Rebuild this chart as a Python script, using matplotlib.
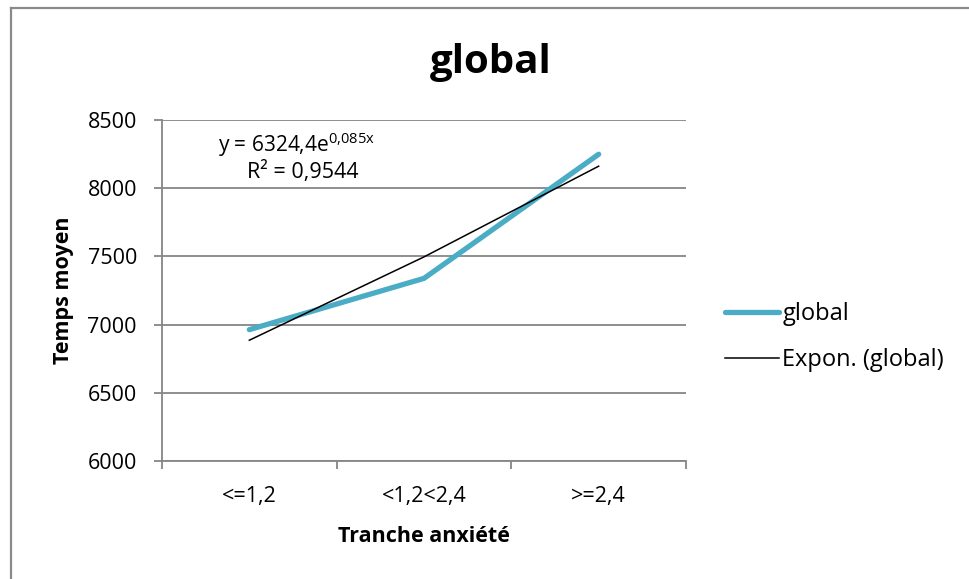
import matplotlib
matplotlib.use("Agg")
import matplotlib.pyplot as plt
import numpy as np
from matplotlib.lines import Line2D

plt.rcParams['font.family'] = ['Open Sans', 'DejaVu Sans']

categories = ["<=1,2", "<1,2<2,4", ">=2,4"]
global_values = [6963, 7339, 8249]
trend_a = 6324.4
trend_b = 0.085
y_ticks = [6000, 6500, 7000, 7500, 8000, 8500]

W, H = 969, 579
fig = plt.figure(figsize=(W / 100, H / 100), dpi=100)
ax = fig.add_axes([162 / W, 1 - 461 / H, (686 - 162) / W, (461 - 120) / H])

x = np.arange(1, len(categories) + 1)
trend_vals = trend_a * np.exp(trend_b * x)

blue = "#4BACC6"
grid_col = "#868686"

ax.plot(x, global_values, color=blue, lw=3.8, solid_capstyle='round',
        solid_joinstyle='round', label="global", zorder=3)
ax.plot(x, trend_vals, color="black", lw=1.1, label="Expon. (global)", zorder=4)

ax.set_xlim(0.5, len(categories) + 0.5)
ax.set_ylim(y_ticks[0], y_ticks[-1])
ax.set_yticks(y_ticks)
ax.set_yticklabels([str(v) for v in y_ticks])
ax.yaxis.grid(True, color=grid_col, lw=1.3)
ax.set_axisbelow(True)

ax.set_xticks(np.arange(0.5, len(categories) + 1, 1.0))
ax.set_xticklabels([])
ax.set_xticks(x, minor=True)
ax.set_xticklabels(categories, minor=True)
ax.tick_params(axis='x', which='major', length=6, width=1.3, color=grid_col, direction='out')
ax.tick_params(axis='x', which='minor', length=0, pad=18, labelsize=15.5)
ax.tick_params(axis='y', length=6, width=1.3, color=grid_col, direction='out', pad=12, labelsize=15.5)

for s in ['top', 'right']:
    ax.spines[s].set_visible(False)
for s in ['left', 'bottom']:
    ax.spines[s].set_color(grid_col)
    ax.spines[s].set_linewidth(1.3)

ax.set_xlabel("Tranche anxiété", fontsize=15.5, fontweight='bold', labelpad=14)
ax.set_ylabel("Temps moyen", fontsize=15.5, fontweight='bold', labelpad=10)

fig.text(491 / W, 1 - 62 / H, "global", fontsize=29, fontweight='bold',
         ha='center', va='center')

ax.text(296 / W, 1 - 145 / H, r"y = 6324,4e$^{\mathregular{0{,}085x}}$",
        transform=fig.transFigure, fontsize=15, ha='center', va='center')
ax.text(303 / W, 1 - 172 / H, "R² = 0,9544",
        transform=fig.transFigure, fontsize=15.5, ha='center', va='center')

fig.legend(loc='center left', bbox_to_anchor=(725 / W, 1 - 337 / H),
           frameon=False, fontsize=17, handlelength=2.3, handletextpad=0.12,
           labelspacing=0.95, borderpad=0, borderaxespad=0)

fig.add_artist(Line2D([11 / W, 11 / W], [0, 1 - 8 / H], transform=fig.transFigure,
                      color="#8a8a8a", lw=1.6))
fig.add_artist(Line2D([11 / W, 1], [1 - 8 / H, 1 - 8 / H], transform=fig.transFigure,
                      color="#8a8a8a", lw=1.6))

fig.savefig("out.png", dpi=100)
